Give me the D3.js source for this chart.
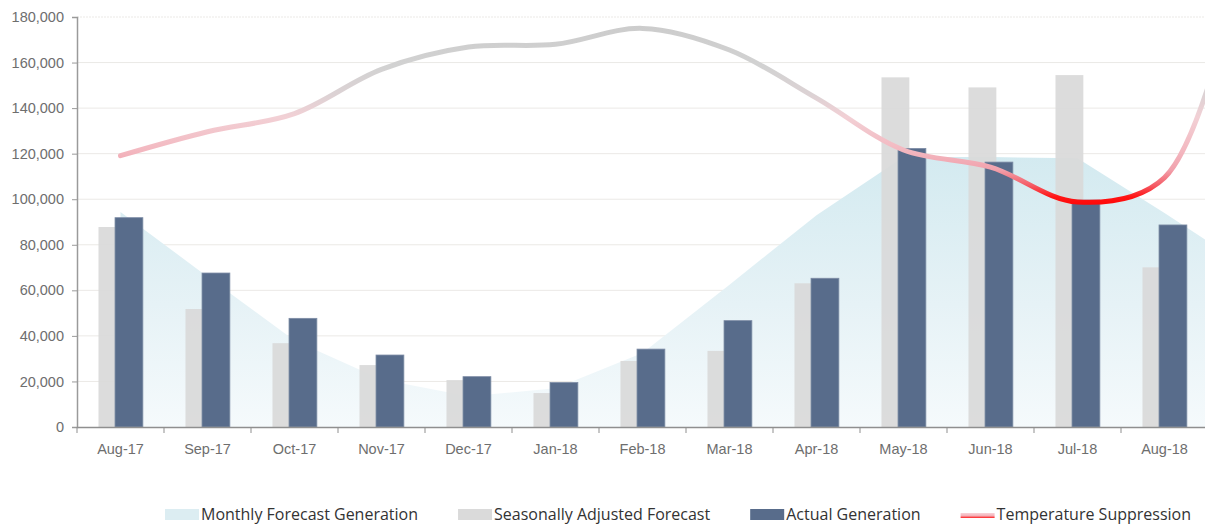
<!DOCTYPE html>
<html>
<head>
<meta charset="utf-8">
<script src="https://cdn.jsdelivr.net/npm/d3@7"></script>
<style>
  html, body { margin: 0; padding: 0; background: #fff; overflow: hidden; }
  svg { display: block; font-family: "Open Sans", sans-serif; }
  .tick-label { font-size: 14.5px; fill: #6e6e6e; }
  .legend-label { font-size: 16px; fill: #333; }
</style>
</head>
<body>
<svg id="chart" width="1205" height="525"></svg>
<script>
// months (the last one sits past the visible edge, like the original export)
const categories = ['Aug-17', 'Sep-17', 'Oct-17', 'Nov-17', 'Dec-17', 'Jan-18', 'Feb-18',
  'Mar-18', 'Apr-18', 'May-18', 'Jun-18', 'Jul-18', 'Aug-18', 'Sep-18'];

const monthlyForecast = [94400, 66000, 38000, 20800, 13500, 17000, 32500,
  62500, 93000, 118500, 118500, 118000, 94000, 69000];
const seasonalForecast = [87800, 51800, 36800, 27200, 20600, 14900, 29000,
  33400, 63100, 153500, 149100, 154500, 70100, null];
const actualGeneration = [91900, 67600, 47700, 31600, 22100, 19500, 34200,
  46700, 65300, 122300, 116300, 99600, 88700, null];
const temperature = [119100, 129600, 137600, 157000, 166800, 168000, 175000,
  165500, 144400, 121600, 114100, 98800, 109500, 222000];

const yTicks = [0, 20000, 40000, 60000, 80000, 100000, 120000, 140000, 160000, 180000];

const legendItems = ['Monthly Forecast Generation', 'Seasonally Adjusted Forecast',
  'Actual Generation', 'Temperature Suppression'];

const svg = d3.select('#chart');
const W = +svg.attr('width');
const margin = { top: 17, left: 77, bottom: 98 };
const plotBottom = +svg.attr('height') - margin.bottom;
const step = 87;

const x = d3.scaleBand()
  .domain(categories)
  .range([margin.left, margin.left + step * categories.length])
  .padding(0);
const y = d3.scaleLinear().domain([0, 180000]).range([plotBottom, margin.top]);
const cx = d => x(d) + x.bandwidth() / 2;

const defs = svg.append('defs');

// area fill fades out toward the baseline
const areaGrad = defs.append('linearGradient')
  .attr('id', 'areaGrad')
  .attr('gradientUnits', 'userSpaceOnUse')
  .attr('x1', 0).attr('x2', 0)
  .attr('y1', y(120000)).attr('y2', y(0));
areaGrad.append('stop').attr('offset', '0%').attr('stop-color', '#d3eaf0');
areaGrad.append('stop').attr('offset', '55%').attr('stop-color', '#e6f2f6');
areaGrad.append('stop').attr('offset', '100%').attr('stop-color', '#f5fafc');

// temperature line colour depends on height: grey up top, pink, then red at the low
const lineGrad = defs.append('linearGradient')
  .attr('id', 'lineGrad')
  .attr('gradientUnits', 'userSpaceOnUse')
  .attr('x1', 0).attr('x2', 0)
  .attr('y1', y(180000)).attr('y2', y(95000));
[[180000, '#cbcbcb'], [158000, '#d2d2d2'], [146000, '#dcd2d4'], [136000, '#f2d0d5'],
 [122000, '#f3b9c1'], [113000, '#f1a2ad'], [106000, '#f55a64'], [101000, '#ff1414'],
 [95000, '#ff0000']].forEach(([v, c]) => {
  lineGrad.append('stop')
    .attr('offset', ((180000 - v) / 85000 * 100) + '%')
    .attr('stop-color', c);
});

const legendLineGrad = defs.append('linearGradient')
  .attr('id', 'legendLineGrad')
  .attr('x1', 0).attr('x2', 0).attr('y1', 0).attr('y2', 1);
legendLineGrad.append('stop').attr('offset', '0%').attr('stop-color', '#f7d3d8');
legendLineGrad.append('stop').attr('offset', '55%').attr('stop-color', '#f4b0b8');
legendLineGrad.append('stop').attr('offset', '100%').attr('stop-color', '#ff1c1c');

defs.append('clipPath').attr('id', 'plotClip')
  .append('rect')
  .attr('x', margin.left).attr('y', 0)
  .attr('width', W - margin.left).attr('height', plotBottom);

// gridlines
svg.append('g')
  .selectAll('line')
  .data(yTicks.filter(d => d > 0))
  .join('line')
  .attr('x1', margin.left).attr('x2', W)
  .attr('y1', d => y(d)).attr('y2', d => y(d))
  .attr('stroke', '#ebe9e6')
  .attr('stroke-width', 1)
  .attr('stroke-dasharray', d => d === 180000 ? '2,1' : null);

const plot = svg.append('g').attr('clip-path', 'url(#plotClip)');

// Monthly forecast area
const areaData = categories.map((c, i) => ({ c, v: monthlyForecast[i] }));
plot.append('path')
  .datum(areaData)
  .attr('fill', 'url(#areaGrad)')
  .attr('d', d3.area()
    .x(d => cx(d.c))
    .y0(y(0))
    .y1(d => y(d.v)));

// bars
const barW = x.bandwidth() * 0.32;
const barData = categories.map((c, i) => ({ c, s: seasonalForecast[i], a: actualGeneration[i] }))
  .filter(d => d.s != null);

plot.append('g')
  .selectAll('rect')
  .data(barData)
  .join('rect')
  .attr('x', d => cx(d.c) - x.bandwidth() * 0.253)
  .attr('y', d => y(d.s))
  .attr('width', barW)
  .attr('height', d => y(0) - y(d.s))
  .attr('fill', '#d9d9d9')
  .attr('fill-opacity', 0.92);

plot.append('g')
  .selectAll('rect')
  .data(barData)
  .join('rect')
  .attr('x', d => cx(d.c) - x.bandwidth() * 0.063)
  .attr('y', d => y(d.a))
  .attr('width', barW)
  .attr('height', d => y(0) - y(d.a))
  .attr('fill', '#586c8b')
  .attr('stroke', '#7d8ca5')
  .attr('stroke-width', 0.8);

// temperature suppression line
const lineData = categories.map((c, i) => ({ c, v: temperature[i] }));
plot.append('path')
  .datum(lineData)
  .attr('fill', 'none')
  .attr('stroke', 'url(#lineGrad)')
  .attr('stroke-width', 5)
  .attr('stroke-linecap', 'round')
  .attr('d', d3.line()
    .x(d => cx(d.c))
    .y(d => y(d.v))
    .curve(d3.curveCatmullRom.alpha(0.5)));

// y axis
const yAxis = svg.append('g')
  .attr('transform', `translate(${margin.left},0)`)
  .call(d3.axisLeft(y).tickValues(yTicks).tickFormat(d3.format(',')).tickSize(5).tickPadding(8));
yAxis.select('.domain').attr('stroke', '#9a9a9a').attr('stroke-width', 1.5);
yAxis.selectAll('.tick line').attr('stroke', '#9a9a9a');
yAxis.selectAll('.tick text').attr('class', 'tick-label').attr('font-family', null).attr('font-size', null).attr('fill', null);

// x axis: labels centred, ticks on the band edges; only months inside the view get a label
const visibleCats = categories.filter(c => cx(c) < W);
const xAxis = svg.append('g')
  .attr('transform', `translate(0,${plotBottom})`)
  .call(d3.axisBottom(x).tickValues(visibleCats).tickSize(0).tickPadding(17));
xAxis.select('.domain').attr('stroke', '#8f8f8f').attr('stroke-width', 1.5);
xAxis.selectAll('.tick text').attr('class', 'tick-label').attr('font-family', null).attr('font-size', null).attr('fill', null);
xAxis.append('g')
  .selectAll('line')
  .data(visibleCats)
  .join('line')
  .attr('x1', d => x(d)).attr('x2', d => x(d))
  .attr('y1', 0).attr('y2', 6)
  .attr('stroke', '#8f8f8f');

// legend
const legend = svg.append('g').attr('transform', 'translate(165,514)');
let lx = 0;
legendItems.forEach((name, i) => {
  const item = legend.append('g').attr('transform', `translate(${lx},0)`);
  if (i === 0) {
    item.append('rect').attr('x', 0).attr('y', -5).attr('width', 34).attr('height', 11).attr('fill', '#dcedf2');
  } else if (i === 1) {
    item.append('rect').attr('x', 0).attr('y', -5).attr('width', 34).attr('height', 11).attr('fill', '#dadada');
  } else if (i === 2) {
    item.append('rect').attr('x', 0).attr('y', -5).attr('width', 34).attr('height', 11).attr('fill', '#586c8b');
  } else {
    item.append('rect').attr('x', 0).attr('y', -1).attr('width', 34).attr('height', 5).attr('fill', 'url(#legendLineGrad)');
  }
  const t = item.append('text')
    .attr('class', 'legend-label')
    .attr('x', 36)
    .attr('dy', '0.35em')
    .text(name);
  lx += 36 + t.node().getComputedTextLength() + 40;
});
</script>
</body>
</html>
